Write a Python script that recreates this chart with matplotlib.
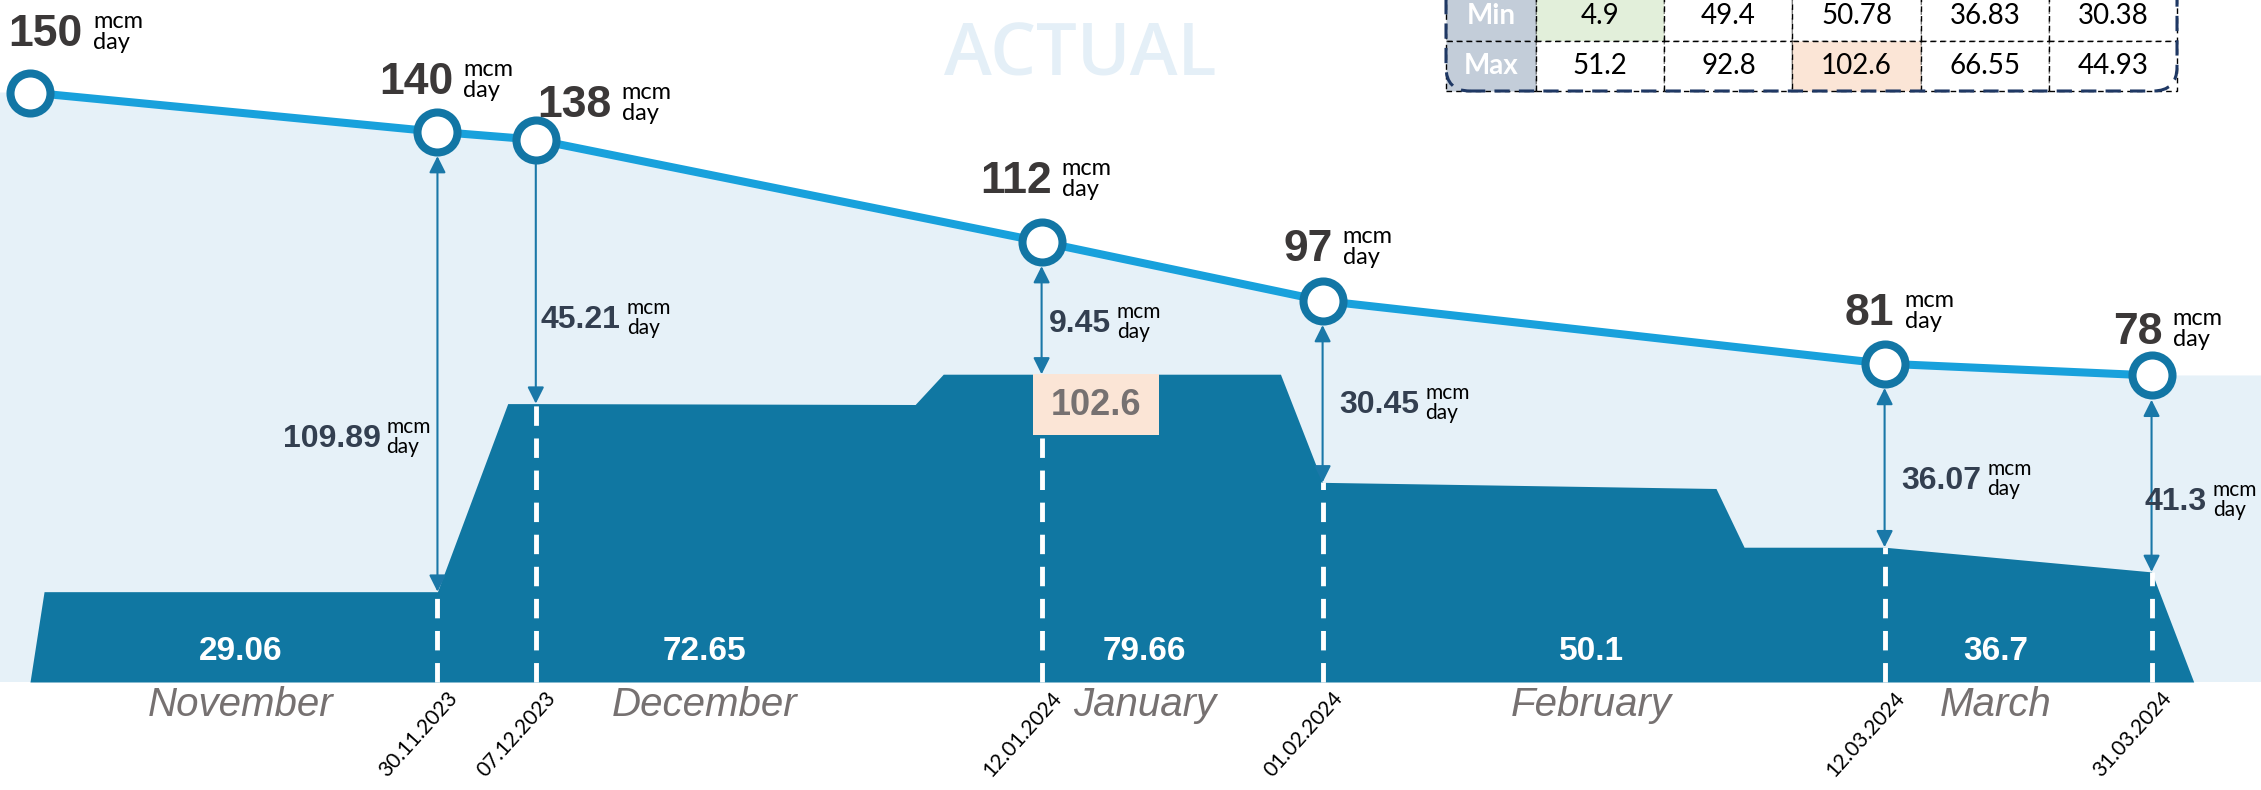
import numpy as np
import pandas as pd
import matplotlib
matplotlib.use('Agg')
import matplotlib.pyplot as plt
import matplotlib.dates as mdates
from matplotlib.patches import Rectangle, FancyBboxPatch
from matplotlib.transforms import ScaledTranslation, IdentityTransform

# --- data -------------------------------------------------------------
cap_dates = ['2023-11-01', '2023-11-30', '2023-12-07', '2024-01-12',
             '2024-02-01', '2024-03-12', '2024-03-31']
cap_values = [150, 140, 138, 112, 97, 81, 78]              # mcm/day
gap_values = [None, 109.89, 45.21, 9.45, 30.45, 36.07, 41.3]

flow_dates = ['2023-11-01', '2023-11-02', '2023-11-30', '2023-12-05',
              '2023-12-07', '2024-01-03', '2024-01-05', '2024-01-12',
              '2024-01-29', '2024-02-01', '2024-02-29', '2024-03-02',
              '2024-03-12', '2024-03-31', '2024-04-03']
flow_values = [0, 30.11, 30.11, 92.8, 92.8, 92.5, 102.6, 102.6,
               102.6, 66.55, 64.5, 44.93, 44.93, 36.7, 0]

months = ['November', 'December', 'January', 'February', 'March']
month_edges = ['2023-11-01', '2023-12-01', '2024-01-01',
               '2024-02-01', '2024-03-01', '2024-04-01']
month_avg = [29.06, 72.65, 79.66, 50.1, 36.7]
month_min = [4.9, 49.4, 50.78, 36.83, 30.38]
month_max = [51.2, 92.8, 102.6, 66.55, 44.93]

# --- styles / layout --------------------------------------------------
PT = 0.72                      # points per pixel at dpi 100
DARK = '#1077a2'
LIGHT = '#e6f1f8'
LINE = '#18a1dc'
RING = '#1276a5'
ARROW = '#1a78a8'
NUM_GRAY = '#3b3838'
GAP_COL = '#333f50'
NARROW = ['Liberation Sans Narrow', 'Liberation Sans', 'DejaVu Sans']
SANS = ['Liberation Sans', 'DejaVu Sans']

# label offsets in pixels (dx, dy down)
cap_label_pos = [(53, -58), (16, -49), (76, -34), (10, -60), (10, -51), (10, -50), (11, -43)]
gap_label_pos = [None, ('right', -57, -153), ('left', 5, -84), ('left', 7, -50),
                 ('left', 17, -77), ('left', 17, -66), ('left', -7, -70)]
gap_heads = [None, '<|-|>', '-|>', '<|-|>', '<|-|>', '<|-|>', '<|-|>']
month_dx = [0, 35, 40, 65, 48]

cx = mdates.date2num(pd.to_datetime(cap_dates).to_pydatetime())
fx = mdates.date2num(pd.to_datetime(flow_dates).to_pydatetime())
mx = mdates.date2num(pd.to_datetime(month_edges).to_pydatetime())
event_flow = [c - g for c, g in zip(cap_values[1:], gap_values[1:])]

fig = plt.figure(figsize=(22.61, 7.90), dpi=100)
ax = fig.add_axes([0, 0, 1, 1])
ax2 = ax.twinx()
ax.set_zorder(2)
ax2.set_zorder(1)
for a in (ax, ax2):
    a.axis('off')

px_per_day = 14.05
xl = cx[0] - 30 / px_per_day
ax.set_xlim(xl, xl + 2261 / px_per_day)
ax.set_ylim(-36, 227.333)        # actual flow scale
ax2.set_ylim(-27.481, 173.537)   # capacity scale

# capacity (light area + line + rings)
xf = np.r_[ax.get_xlim()[0], cx, ax.get_xlim()[1]]
yf = np.r_[cap_values[0], cap_values, cap_values[-1]]
ax2.fill_between(xf, 0, yf, color=LIGHT, lw=0, zorder=1)
ax2.plot(cx, cap_values, color=LINE, lw=5.8, solid_capstyle='butt', zorder=2)
ax2.plot(cx, cap_values, 'o', ms=28.8, mfc='white', mec=RING, mew=5.8, zorder=3)

for d, v, (dx, dy) in zip(cx, cap_values, cap_label_pos):
    num = ax2.annotate(f'{v}', xy=(d, v), xytext=(dx * PT, -dy * PT),
                       textcoords='offset points', ha='right', va='center',
                       fontsize=32, fontweight='bold', family=NARROW, color=NUM_GRAY)
    ax2.annotate('mcm\nday', xy=(1, 0.5), xycoords=num, xytext=(10 * PT, 3 * PT),
                 textcoords='offset points', ha='left', va='center',
                 fontsize=17, family='Lato', color='black', linespacing=1.0)

# actual flow
ax.fill_between(fx, 0, flow_values, color=DARK, lw=0, zorder=1)
ax.vlines(cx[1:], 0, event_flow, colors='white', lw=3.5,
          linestyles=[(0, (4, 2.6))], zorder=2)

for i in range(1, len(cap_values)):
    ax.annotate('', xy=(cx[i], event_flow[i - 1]), xycoords=ax.transData,
                xytext=(cx[i], cap_values[i]), textcoords=ax2.transData,
                arrowprops=dict(arrowstyle=gap_heads[i] + ',head_length=0.4,head_width=0.2',
                                color=ARROW, lw=1.5, mutation_scale=25,
                                shrinkA=17.5, shrinkB=0), zorder=4)
    ha, dx, dy = gap_label_pos[i]
    num = ax.annotate(f'{gap_values[i]:g}', xy=(cx[i], event_flow[i - 1]),
                      xytext=(dx * PT, -dy * PT), textcoords='offset points',
                      ha=ha, va='center', fontsize=23, fontweight='bold',
                      family=SANS, color=GAP_COL, zorder=5)
    ax.annotate('mcm\nday', xy=(1, 0.5), xycoords=num, xytext=(6 * PT, 2 * PT),
                textcoords='offset points', ha='left', va='center',
                fontsize=15, family='Lato', color='black', linespacing=1.0)
    ax.annotate(pd.Timestamp(mdates.num2date(cx[i])).strftime('%d.%m.%Y'),
                xy=(cx[i], 0), xytext=(17 * PT, -13 * PT), textcoords='offset points',
                rotation=48, rotation_mode='anchor', ha='right', va='center',
                fontsize=15, family='Lato', color='black')

# January peak box
peak = month_max[2]
box_tr = fig.dpi_scale_trans + ScaledTranslation(cx[3], peak, ax.transData)
ax.add_patch(Rectangle((-0.09, -0.61), 1.26, 0.61, transform=box_tr,
                       facecolor='#fbe5d6', edgecolor='none', zorder=6))
ax.annotate(f'{peak:g}', xy=(cx[3], peak), xytext=(54 * PT, -31 * PT),
            textcoords='offset points', ha='center', va='center',
            fontsize=26, fontweight='bold', family=NARROW, color='#767171', zorder=7)

# month averages and names
mids = mx[:-1] + np.diff(mx) / 2
for m, a, xm, mdx in zip(months, month_avg, mids, month_dx):
    ax.annotate(f'{a:g}', xy=(xm, 0), xytext=(mdx * PT, 30 * PT), textcoords='offset points',
                ha='center', va='center', fontsize=24, fontweight='bold',
                family=NARROW, color='white', zorder=5)
    ax.annotate(m, xy=(xm, 0), xytext=(mdx * PT, -23 * PT), textcoords='offset points',
                ha='center', va='center', fontsize=29, style='italic',
                family=SANS, color='#767171')

ax.text(0.4777, 0.929, 'ACTUAL', transform=ax.transAxes, ha='center', va='center',
        fontsize=52, fontweight='semibold', family='Open Sans', color='#e4eff7')

# min / max table
tx0, ty0, tw, th = 1446, 790 - 91, 731, 100
cell_text = [['Min'] + [f'{v:g}' for v in month_min],
             ['Max'] + [f'{v:g}' for v in month_max]]
tbl = ax.table(cellText=cell_text, cellLoc='center',
               colWidths=[90] + [128] * 5,
               bbox=[tx0 / 2261, ty0 / 790, tw / 2261, th / 790])
tbl.auto_set_font_size(False)
tbl.set_fontsize(20)
frame = FancyBboxPatch((tx0, ty0), tw, th + 40, boxstyle='round,pad=0,rounding_size=24',
                       transform=IdentityTransform(), fill=False, ec='#1f3864',
                       lw=2.2, ls=(0, (5, 3)), zorder=10)
fig.add_artist(frame)
for (r, c), cell in tbl.get_celld().items():
    cell.set_linestyle((0, (4, 3)))
    cell.set_edgecolor('black')
    cell.set_linewidth(1)
    cell.set_clip_path(frame)
    txt = cell.get_text()
    txt.set_fontfamily('Lato')
    if c == 0:
        cell.set_facecolor('#c3cdd9')
        txt.set_color('white')
        txt.set_fontweight('bold')
    elif r == 0 and month_min[c - 1] == min(month_min):
        cell.set_facecolor('#e2efda')
    elif r == 1 and month_max[c - 1] == max(month_max):
        cell.set_facecolor('#fbe5d6')
    else:
        cell.set_facecolor('white')

fig.savefig('out.png', dpi=100)
